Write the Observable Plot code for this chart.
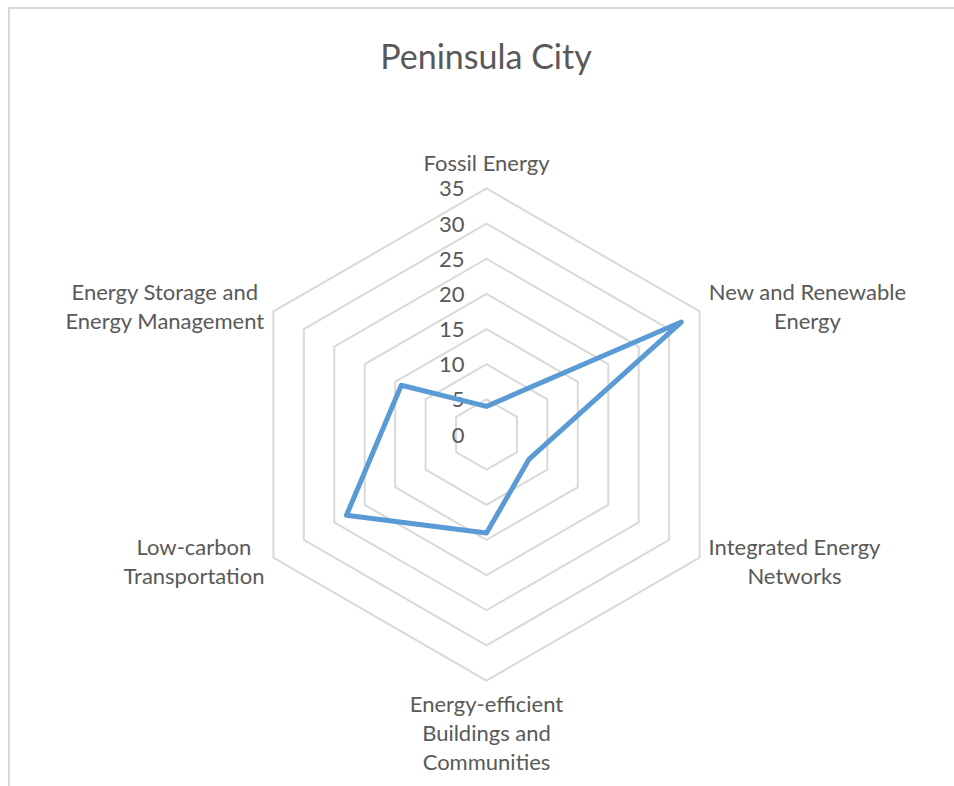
<!DOCTYPE html>
<html>
<head>
<meta charset="utf-8">
<script src="https://cdn.jsdelivr.net/npm/d3@7"></script>
<script src="https://cdn.jsdelivr.net/npm/@observablehq/plot@0.6"></script>
<style>
  html, body { margin: 0; padding: 0; background: #fff; }
  #wrap { position: relative; width: 954px; height: 786px; overflow: hidden; font-family: Lato, "Open Sans", sans-serif; }
  #frame { position: absolute; left: 8px; top: 7px; width: 2000px; height: 2000px; border-top: 2px solid #d9d9d9; border-left: 2px solid #d9d9d9; pointer-events: none; }
  #title { position: absolute; left: 18px; top: 0; width: 936px; height: 100px; display: flex; align-items: center; justify-content: center; padding-bottom: 0px; padding-top: 10px; box-sizing: border-box; font-size: 34px; color: #595959; }
  #chart { position: absolute; left: 0; top: 100px; }
</style>
</head>
<body>
<div id="wrap">
  <div id="title">Peninsula City</div>
  <div id="chart"></div>
  <div id="frame"></div>
</div>
<script>
const categories = [
  "Fossil Energy",
  "New and Renewable Energy",
  "Integrated Energy Networks",
  "Energy-efficient Buildings and Communities",
  "Low-carbon Transportation",
  "Energy Storage and Energy Management"
];
const labelLines = [
  ["Fossil Energy"],
  ["New and Renewable", "Energy"],
  ["Integrated Energy", "Networks"],
  ["Energy-efficient", "Buildings and", "Communities"],
  ["Low-carbon", "Transportation"],
  ["Energy Storage and", "Energy Management"]
];
const values = [4, 32, 7, 14, 23, 14];
const tickValues = [0, 5, 10, 15, 20, 25, 30, 35];
const maxValue = 35;

// layout
const W = 954, H = 686;
const cx = 486, cy = 334;      // centre in svg pixels
const k = 7.03;                 // pixels per unit
const fontSize = 22, lineH = 29;
const textColor = "#595959";

const n = categories.length;
const angle = i => (i * 2 * Math.PI) / n;
const px = (i, r) => r * Math.sin(angle(i));
const py = (i, r) => r * Math.cos(angle(i));

// grid rings
const rings = [];
for (const t of tickValues.filter(t => t > 0)) {
  for (let j = 0; j <= n; j++) {
    const i = j % n;
    rings.push({ring: t, x: px(i, t), y: py(i, t)});
  }
}
// series polygon
const series = [];
for (let j = 0; j <= n; j++) {
  const i = j % n;
  series.push({category: categories[i], x: px(i, values[i]), y: py(i, values[i])});
}

// label positions (measure text to centre multi-line blocks beside the vertex)
const ctx = document.createElement("canvas").getContext("2d");
ctx.font = `${fontSize}px Lato`;
const labels = labelLines.map((lines, i) => {
  const s = Math.sin(angle(i)), c = Math.cos(angle(i));
  const w = Math.max(...lines.map(l => ctx.measureText(l).width));
  let ox = 0, oy = 0;
  if (Math.abs(s) > 0.01) ox = Math.sign(s) * (w / 2 + 9);
  if (Math.abs(s) < 0.01) {
    oy = c > 0 ? 27 : -(22 + (lines.length - 1) * lineH / 2);
  } else {
    oy = c > 0 ? 6 : -3;
  }
  return {text: lines.join("\n"), x: px(i, maxValue) + ox / k, y: py(i, maxValue) + oy / k};
});

const chart = Plot.plot({
  width: W,
  height: H,
  margin: 0,
  x: {domain: [-cx / k, (W - cx) / k], range: [0, W], axis: null},
  y: {domain: [-(H - cy) / k, cy / k], range: [H, 0], axis: null},
  style: {fontFamily: "Lato, 'Open Sans', sans-serif", background: "transparent"},
  marks: [
    Plot.line(rings, {x: "x", y: "y", z: "ring", stroke: "#d9d9d9", strokeWidth: 2}),
    Plot.text(tickValues, {x: 0, y: d => d, text: d => String(d), textAnchor: "end", dx: -22, dy: 1, fontSize: fontSize, fill: textColor}),
    Plot.line(series, {x: "x", y: "y", stroke: "#5b9bd5", strokeWidth: 5, strokeLinejoin: "round", strokeLinecap: "round"}),
    Plot.text(labels, {x: "x", y: "y", text: "text", textAnchor: "middle", lineAnchor: "middle", lineHeight: lineH / fontSize, fontSize: fontSize, fill: textColor})
  ]
});
document.getElementById("chart").appendChild(chart);
</script>
</body>
</html>
